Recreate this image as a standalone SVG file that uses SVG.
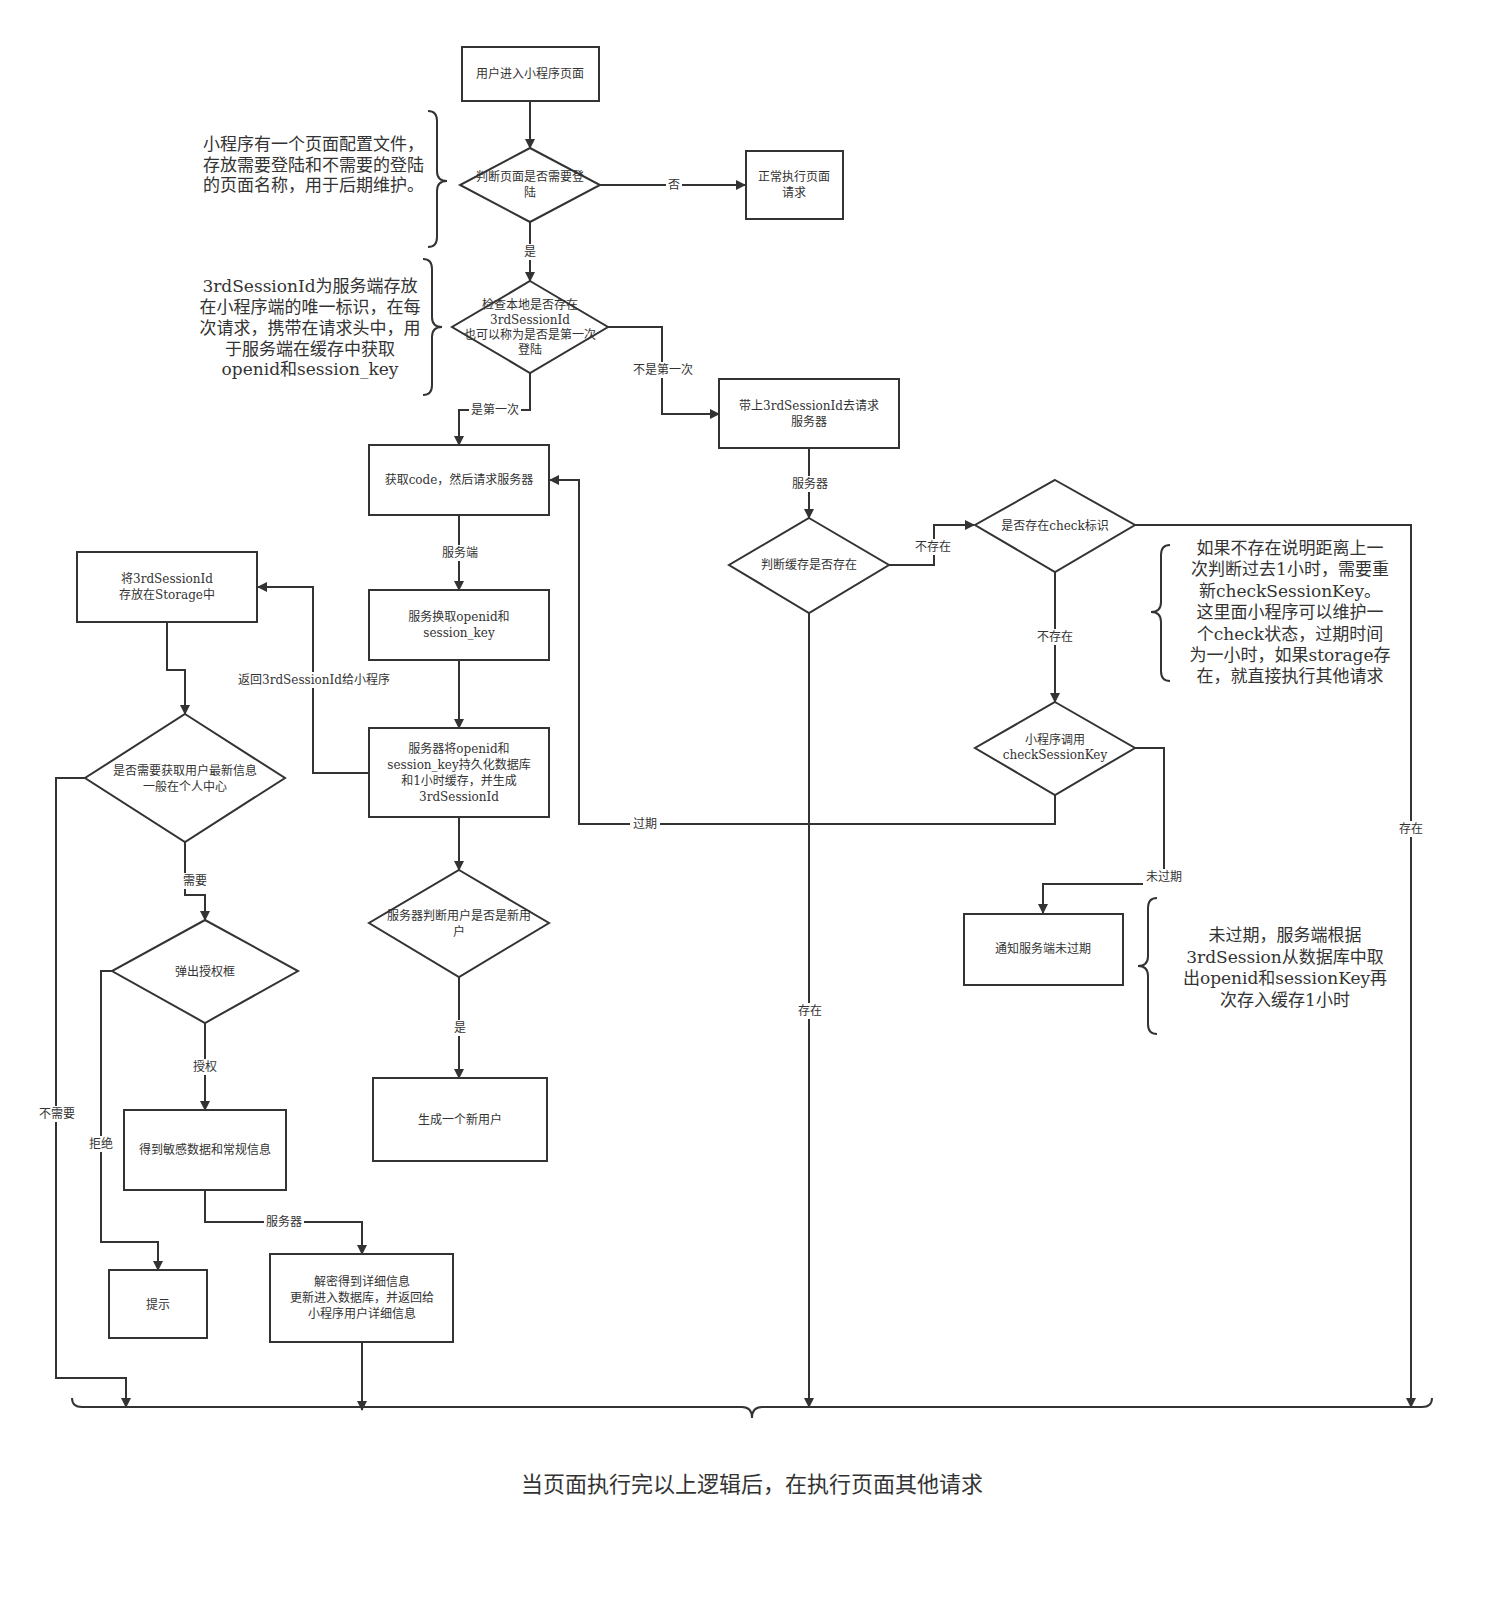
<svg xmlns="http://www.w3.org/2000/svg" width="1496" height="1602" viewBox="0 0 1496 1602">
<style>
.n{fill:#fff;stroke:#333;stroke-width:2}
.c{fill:none;stroke:#333;stroke-width:2}
.b{fill:none;stroke:#333;stroke-width:2}
text{font-family:"DejaVu Serif","Noto Sans CJK SC",serif;fill:#333}
.t{font-size:12px;text-anchor:middle}
.l{font-size:12px;text-anchor:middle}
.a{font-size:17px}
.lb{fill:#fff;stroke:none}
</style>
<defs><marker id="m" markerWidth="10" markerHeight="10" refX="9" refY="5" orient="auto" markerUnits="userSpaceOnUse"><path d="M0,0L10,5L0,10z" fill="#333"/></marker></defs>
<rect width="1496" height="1602" fill="#fff"/>
<g id="connectors">
<path class="c" marker-end="url(#m)" d="M530,101V148"/>
<path class="c" marker-end="url(#m)" d="M600,185H745"/>
<path class="c" marker-end="url(#m)" d="M530,222V281"/>
<path class="c" marker-end="url(#m)" d="M530,373V410H459V445"/>
<path class="c" marker-end="url(#m)" d="M608,327H662V414H719"/>
<path class="c" marker-end="url(#m)" d="M809,448V518"/>
<path class="c" marker-end="url(#m)" d="M889,565H934V525H974"/>
<path class="c" marker-end="url(#m)" d="M1135,525H1411V1407"/>
<path class="c" marker-end="url(#m)" d="M1055,572V702"/>
<path class="c" marker-end="url(#m)" d="M1055,795V824H579V480H550"/>
<path class="c" marker-end="url(#m)" d="M1135,748H1164V884H1043V913"/>
<path class="c" marker-end="url(#m)" d="M809,613V1407"/>
<path class="c" marker-end="url(#m)" d="M459,515V590"/>
<path class="c" marker-end="url(#m)" d="M459,660V728"/>
<path class="c" marker-end="url(#m)" d="M369,773H313V587H258"/>
<path class="c" marker-end="url(#m)" d="M167,622V670H185V714"/>
<path class="c" marker-end="url(#m)" d="M85,778H56V1378H126V1407"/>
<path class="c" marker-end="url(#m)" d="M185,842V895H205V920"/>
<path class="c" marker-end="url(#m)" d="M112,971H101V1242H158V1270"/>
<path class="c" marker-end="url(#m)" d="M205,1023V1110"/>
<path class="c" marker-end="url(#m)" d="M205,1190V1222H362V1254"/>
<path class="c" marker-end="url(#m)" d="M362,1342V1410"/>
<path class="c" marker-end="url(#m)" d="M459,817V870"/>
<path class="c" marker-end="url(#m)" d="M459,977V1078"/>
<g>
<rect class="lb" x="666" y="177" width="16" height="16"/><text class="l" x="674" y="189">否</text>
<rect class="lb" x="522" y="244" width="16" height="16"/><text class="l" x="530" y="256">是</text>
<rect class="lb" x="469" y="402" width="52" height="16"/><text class="l" x="495" y="414">是第一次</text>
<rect class="lb" x="631" y="362" width="64" height="16"/><text class="l" x="663" y="374">不是第一次</text>
<rect class="lb" x="790" y="476" width="40" height="16"/><text class="l" x="810" y="488">服务器</text>
<rect class="lb" x="913" y="539" width="40" height="16"/><text class="l" x="933" y="551">不存在</text>
<rect class="lb" x="1396" y="821" width="30" height="16"/><text class="l" x="1411" y="833">存在</text>
<rect class="lb" x="1035" y="629" width="40" height="16"/><text class="l" x="1055" y="641">不存在</text>
<rect class="lb" x="630" y="816" width="30" height="16"/><text class="l" x="645" y="828">过期</text>
<rect class="lb" x="1143" y="869" width="42" height="16"/><text class="l" x="1164" y="881">未过期</text>
<rect class="lb" x="795" y="1003" width="30" height="16"/><text class="l" x="810" y="1015">存在</text>
<rect class="lb" x="440" y="545" width="40" height="16"/><text class="l" x="460" y="557">服务端</text>
<rect class="lb" x="232" y="672" width="164" height="16"/><text class="l" x="314" y="684">返回3rdSessionId给小程序</text>
<rect class="lb" x="36" y="1106" width="42" height="16"/><text class="l" x="57" y="1118">不需要</text>
<rect class="lb" x="180" y="873" width="30" height="16"/><text class="l" x="195" y="885">需要</text>
<rect class="lb" x="86" y="1136" width="30" height="16"/><text class="l" x="101" y="1148">拒绝</text>
<rect class="lb" x="190" y="1059" width="30" height="16"/><text class="l" x="205" y="1071">授权</text>
<rect class="lb" x="264" y="1214" width="40" height="16"/><text class="l" x="284" y="1226">服务器</text>
<rect class="lb" x="452" y="1020" width="16" height="16"/><text class="l" x="460" y="1032">是</text>
</g>
</g>
<g id="A"><rect class="n" x="462" y="47" width="137" height="54"/><text class="t" x="530" y="78">用户进入小程序页面</text></g>
<g id="D1"><path class="n" d="M530,148L600,185L530,222L460,185z"/><text class="t" x="530" y="181">判断页面是否需要登</text><text class="t" x="530" y="197">陆</text></g>
<g id="B"><rect class="n" x="746" y="151" width="97" height="68"/><text class="t" x="794" y="181">正常执行页面</text><text class="t" x="794" y="197">请求</text></g>
<g id="D2"><path class="n" d="M530,281L608,327L530,373L452,327z"/><text class="t" x="530" y="309">检查本地是否存在</text><text class="t" x="530" y="324">3rdSessionId</text><text class="t" x="530" y="339">也可以称为是否是第一次</text><text class="t" x="530" y="354">登陆</text></g>
<g id="C"><rect class="n" x="719" y="379" width="180" height="69"/><text class="t" x="809" y="410">带上3rdSessionId去请求</text><text class="t" x="809" y="426">服务器</text></g>
<g id="D3"><path class="n" d="M809,518L889,565L809,613L729,565z"/><text class="t" x="809" y="569">判断缓存是否存在</text></g>
<g id="D4"><path class="n" d="M1055,480L1135,525L1055,572L975,525z"/><text class="t" x="1055" y="530">是否存在check标识</text></g>
<g id="D5"><path class="n" d="M1055,702L1135,748L1055,795L975,748z"/><text class="t" x="1055" y="744">小程序调用</text><text class="t" x="1055" y="759">checkSessionKey</text></g>
<g id="F"><rect class="n" x="964" y="914" width="159" height="71"/><text class="t" x="1043" y="953">通知服务端未过期</text></g>
<g id="E"><rect class="n" x="369" y="445" width="180" height="70"/><text class="t" x="459" y="484">获取code，然后请求服务器</text></g>
<g id="G"><rect class="n" x="369" y="590" width="180" height="70"/><text class="t" x="459" y="621">服务换取openid和</text><text class="t" x="459" y="637">session_key</text></g>
<g id="H"><rect class="n" x="369" y="728" width="180" height="89"/><text class="t" x="459" y="753">服务器将openid和</text><text class="t" x="459" y="769">session_key持久化数据库</text><text class="t" x="459" y="785">和1小时缓存，并生成</text><text class="t" x="459" y="801">3rdSessionId</text></g>
<g id="I"><rect class="n" x="77" y="552" width="180" height="70"/><text class="t" x="167" y="583">将3rdSessionId</text><text class="t" x="167" y="599">存放在Storage中</text></g>
<g id="D6"><path class="n" d="M185,714L285,778L185,842L85,778z"/><text class="t" x="185" y="775">是否需要获取用户最新信息</text><text class="t" x="185" y="791">一般在个人中心</text></g>
<g id="D7"><path class="n" d="M205,920L298,971L205,1023L112,971z"/><text class="t" x="205" y="976">弹出授权框</text></g>
<g id="J"><rect class="n" x="124" y="1110" width="162" height="80"/><text class="t" x="205" y="1154">得到敏感数据和常规信息</text></g>
<g id="K"><rect class="n" x="270" y="1254" width="183" height="88"/><text class="t" x="362" y="1286">解密得到详细信息</text><text class="t" x="362" y="1302">更新进入数据库，并返回给</text><text class="t" x="362" y="1318">小程序用户详细信息</text></g>
<g id="L"><rect class="n" x="109" y="1270" width="98" height="68"/><text class="t" x="158" y="1309">提示</text></g>
<g id="D8"><path class="n" d="M459,870L549,923L459,977L369,923z"/><text class="t" x="459" y="920">服务器判断用户是否是新用</text><text class="t" x="459" y="936">户</text></g>
<g id="M"><rect class="n" x="373" y="1078" width="174" height="83"/><text class="t" x="460" y="1124">生成一个新用户</text></g>
<g id="notes">
<path class="b" d="M428,111Q437,111 437,121V171Q437,181 447,181Q437,181 437,191V237Q437,247 428,247"/>
<path class="b" d="M423,259Q432,259 432,269V317Q432,327 442,327Q432,327 432,337V385Q432,395 423,395"/>
<path class="b" d="M1170,545Q1161,545 1161,555V602Q1161,612 1151,612Q1161,612 1161,622V671Q1161,681 1170,681"/>
<path class="b" d="M1157,898Q1148,898 1148,908V956Q1148,966 1138,966Q1148,966 1148,976V1024Q1148,1034 1157,1034"/>
<path class="b" d="M72,1398Q72,1407 82,1407H742Q752,1407 752,1418Q752,1407 762,1407H1422Q1432,1407 1432,1398"/>
<text class="a" x="203" y="150">小程序有一个页面配置文件，</text>
<text class="a" x="203" y="171">存放需要登陆和不需要的登陆</text>
<text class="a" x="203" y="191">的页面名称，用于后期维护。</text>
<g text-anchor="middle" class="a">
<text x="310" y="292">3rdSessionId为服务端存放</text>
<text x="310" y="313">在小程序端的唯一标识，在每</text>
<text x="310" y="334">次请求，携带在请求头中，用</text>
<text x="310" y="355">于服务端在缓存中获取</text>
<text x="310" y="375">openid和session_key</text>
<text x="1290" y="554">如果不存在说明距离上一</text>
<text x="1290" y="575">次判断过去1小时，需要重</text>
<text x="1290" y="597">新checkSessionKey。</text>
<text x="1290" y="618">这里面小程序可以维护一</text>
<text x="1290" y="640">个check状态，过期时间</text>
<text x="1290" y="661">为一小时，如果storage存</text>
<text x="1290" y="682">在，就直接执行其他请求</text>
<text x="1285" y="941">未过期，服务端根据</text>
<text x="1285" y="963">3rdSession从数据库中取</text>
<text x="1285" y="984">出openid和sessionKey再</text>
<text x="1285" y="1006">次存入缓存1小时</text>
</g>
<text x="752" y="1492" style="font-size:22px;text-anchor:middle">当页面执行完以上逻辑后，在执行页面其他请求</text>
</g>
</svg>
